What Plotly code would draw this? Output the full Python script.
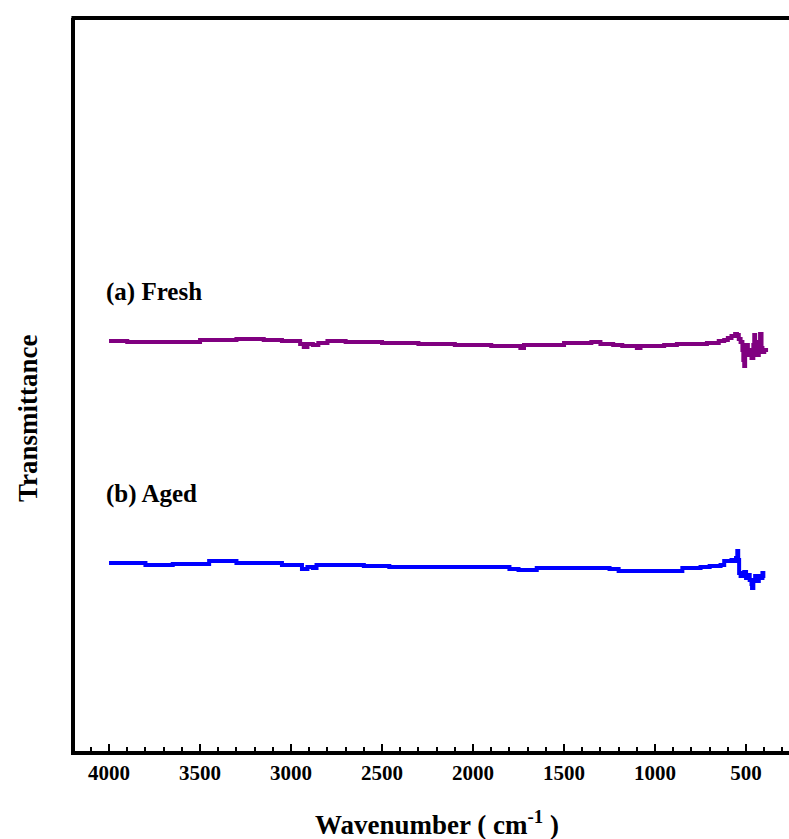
import plotly.graph_objects as go

# Wavenumber (cm^-1) and transmittance (arbitrary units)
fresh_wn = [4000, 3950, 3900, 3700, 3560, 3500, 3300, 3150, 3050, 2980, 2950, 2930, 2910, 2880,
            2850, 2800, 2700, 2500, 2300, 2100, 1900, 1750, 1740, 1720, 1600, 1500, 1350, 1300,
            1230, 1180, 1100, 1080, 950, 880, 800, 715, 650, 620, 600, 580, 560, 550, 540, 530,
            520, 515, 510, 505, 500, 490, 480, 470, 460, 455, 450, 440, 430, 423, 415, 410, 400, 390]
fresh_t = [55.93, 55.93, 55.80, 55.80, 55.80, 56.07, 56.21, 56.07, 55.93, 55.93, 55.53, 55.12, 55.53, 55.39,
           55.66, 55.93, 55.80, 55.66, 55.53, 55.39, 55.25, 55.25, 54.98, 55.39, 55.39, 55.66, 55.80, 55.53,
           55.39, 55.25, 54.98, 55.25, 55.39, 55.53, 55.53, 55.66, 55.93, 56.07, 56.34, 56.62, 56.89, 56.75, 56.21, 55.80,
           54.71, 53.34, 52.52, 54.02, 55.39, 54.02, 54.71, 53.62, 55.39, 56.75, 55.80, 54.02, 55.39, 56.89, 54.98, 54.43, 54.71, 54.43]

aged_wn = [4000, 3900, 3800, 3700, 3650, 3500, 3450, 3370, 3300, 3100, 3050, 2970, 2940, 2910,
           2880, 2860, 2700, 2600, 2460, 2300, 2100, 2000, 1800, 1750, 1650, 1500, 1300, 1250,
           1200, 1000, 880, 850, 750, 700, 640, 620, 600, 580, 565, 555, 548, 543, 538, 530,
           520, 510, 500, 490, 480, 470, 467, 460, 450, 440, 430, 420, 410, 405]
aged_t = [25.65, 25.65, 25.38, 25.38, 25.51, 25.51, 25.92, 25.92, 25.65, 25.65, 25.38, 25.38, 24.83, 25.10,
          24.97, 25.38, 25.38, 25.24, 25.10, 25.10, 25.10, 25.10, 24.83, 24.69, 24.97, 24.97, 24.97, 24.83,
          24.56, 24.56, 24.56, 24.97, 25.10, 25.24, 25.38, 25.92, 25.92, 26.06, 25.92, 26.33, 27.29, 26.06, 24.28, 23.87,
          24.15, 24.42, 23.60, 24.01, 23.33, 22.78, 22.24, 23.33, 23.87, 23.19, 23.87, 23.60, 24.28, 23.60]

series_labels = ["(a) Fresh", "(b) Aged"]
tick_vals = [4000, 3500, 3000, 2500, 2000, 1500, 1000, 500]
tick_text = ["4000", "3500", "3000", "2500", "2000", "1500", "1000", "500"]

FONT = "Liberation Serif"

fig = go.Figure()
fig.add_trace(go.Scatter(x=fresh_wn, y=fresh_t, mode="lines", name=series_labels[0],
                         line=dict(color="#800080", width=4, shape="hv"), showlegend=False))
fig.add_trace(go.Scatter(x=aged_wn, y=aged_t, mode="lines", name=series_labels[1],
                         line=dict(color="#0000ff", width=4, shape="hv"), showlegend=False))

fig.update_layout(
    width=789, height=839,
    margin=dict(l=75, r=0, t=18, b=88),
    paper_bgcolor="white", plot_bgcolor="white",
    font=dict(family=FONT, color="black"),
    xaxis=dict(range=[4187, 264], tickvals=tick_vals, ticktext=tick_text,
               ticks="inside", ticklen=7, tickwidth=2, tickcolor="black",
               minor=dict(dtick=100, tick0=0, ticks="inside", ticklen=4, tickwidth=2, tickcolor="black"),
               showline=True, linecolor="black", linewidth=4, mirror=False,
               showgrid=False, zeroline=False,
               tickfont=dict(family=FONT, size=21, weight="bold", color="black")),
    yaxis=dict(range=[0, 100], showticklabels=False, ticks="",
               showline=True, linecolor="black", linewidth=4, mirror=False,
               showgrid=False, zeroline=False),
    shapes=[dict(type="line", xref="paper", yref="paper", x0=-0.005, x1=1.01, y0=1.0, y1=1.0,
                 line=dict(color="black", width=4))],
    annotations=[
        dict(text="Wavenumber ( cm<sup>-1</sup> )", xref="paper", yref="paper", x=0.5077, y=-0.098,
             xanchor="center", yanchor="middle", showarrow=False,
             font=dict(family=FONT, size=27, weight="bold", color="black")),
        dict(text="Transmittance", xref="paper", yref="paper", x=-0.0658, y=0.453, textangle=-90,
             xanchor="center", yanchor="middle", showarrow=False,
             font=dict(family=FONT, size=27, weight="bold", color="black")),
        dict(text=series_labels[0], xref="paper", yref="paper", x=0.040, y=0.626,
             xanchor="left", yanchor="middle", showarrow=False,
             font=dict(family=FONT, size=25, weight="bold", color="black")),
        dict(text=series_labels[1], xref="paper", yref="paper", x=0.040, y=0.3506,
             xanchor="left", yanchor="middle", showarrow=False,
             font=dict(family=FONT, size=25, weight="bold", color="black")),
    ],
)

fig.write_html("out.html")
